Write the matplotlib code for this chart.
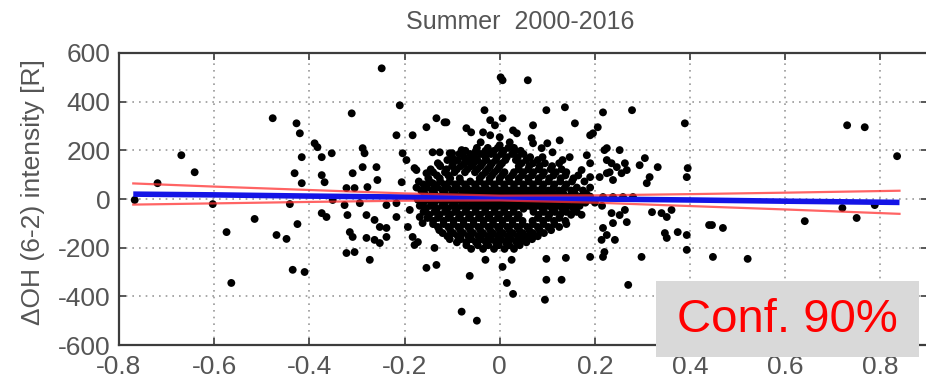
import matplotlib
matplotlib.use("Agg")
import matplotlib.pyplot as plt
from matplotlib.patches import Rectangle

plt.rcParams["font.family"] = ["Liberation Sans", "DejaVu Sans"]
plt.rcParams["axes.unicode_minus"] = False

TEXT, SPINE, GRID = "#555555", "#3c3c3c", "#9a9a9a"

# scattered points (x = index, y = intensity anomaly [R])
OUTER_X = [-0.767, -0.719, -0.669, -0.641, -0.603, -0.574, -0.564, -0.515, -0.477, -0.469,
           -0.448, -0.441, -0.435, -0.431, -0.427, -0.425, -0.42, -0.416, -0.416, -0.41,
           -0.389, -0.383, -0.374, -0.374, -0.368, -0.374, -0.364, -0.353, -0.351, -0.322,
           -0.326, -0.32, -0.315, -0.311, -0.309, -0.309, -0.305, -0.322, -0.305, -0.294,
           -0.288, -0.284, -0.288, -0.28, -0.28, -0.278, -0.273, -0.263, -0.263, -0.259,
           -0.257, -0.252, -0.252, -0.248, -0.238, -0.238, -0.238, -0.217, -0.217, -0.21,
           -0.217, -0.206, -0.204, -0.196, -0.193, -0.189, -0.183, -0.183, -0.179, -0.179,
           -0.175, -0.172, -0.168, -0.162, -0.154, -0.154, -0.154, -0.141, -0.141, -0.137,
           -0.133, -0.133, -0.126, -0.126, -0.116, -0.112, -0.105, -0.1, -0.08, -0.08,
           -0.063, -0.06, -0.07, -0.048, -0.04, -0.035, -0.032, -0.03, -0.02, -0.02,
           -0.01, 0.0, 0.0, 0.002, 0.006, 0.006, 0.006, 0.015, 0.025, 0.028,
           0.028, 0.036, 0.021, 0.059, 0.067, 0.07, 0.07, 0.088, 0.095, 0.098,
           0.098, 0.098, 0.1, 0.111, 0.126, 0.13, 0.137, 0.139, 0.132, 0.147,
           0.158, 0.172, 0.183, 0.19, 0.19, 0.19, 0.19, 0.196, 0.206, 0.21,
           0.217, 0.217, 0.22, 0.225, 0.225, 0.225, 0.231, 0.235, 0.238, 0.246,
           0.252, 0.256, 0.263, 0.267, 0.278, 0.294, 0.305, 0.309, 0.315, 0.332,
           0.389, 0.393, 0.395, 0.217, 0.238, 0.259, 0.28, 0.235, 0.252, 0.263,
           0.238, 0.267, 0.217, 0.225, 0.242, 0.214, 0.22, 0.32, 0.34, 0.351,
           0.361, 0.347, 0.351, 0.374, 0.393, 0.393, 0.298, 0.27, 0.44, 0.446,
           0.469, 0.448, 0.521, 0.641, 0.72, 0.75, 0.788, 0.73, 0.767, 0.835]
OUTER_Y = [-4, 65, 180, 110, -21, -136, -345, -82, 332, -148,
           -164, -21, -291, 106, 311, -103, 270, 172, 65, -300,
           229, 213, 172, 98, 69, -58, -74, 188, -4, 45,
           -25, -66, -136, 352, 106, -156, 45, -222, -218, -17,
           209, 188, 131, -66, -160, 49, -250, -86, -168, 131,
           78, -115, -181, 537, -119, -156, -25, -17, -74, 385,
           262, 69, 188, 160, -115, -45, 262, -156, 127, -189,
           119, -177, -74, -99, 295, 106, -283, 65, 192, -201,
           332, -271, 192, 139, 315, 315, 188, 188, 201, -463,
           -316, 274, 291, -500, 233, 274, 365, -250, 324, 262,
           303, 254, 221, 500, 488, 332, -279, -345, -250, -390,
           282, 270, 233, 488, 250, 303, 229, 209, -414, 365,
           -332, -246, 229, 192, 241, -332, 377, -242, 160, 172,
           311, 119, 180, 262, 147, 90, -238, 270, 295, 90,
           356, -238, 201, 209, 160, 106, 110, 147, 78, 131,
           201, 106, 147, 119, 365, 139, 168, 65, 90, 131,
           311, 90, 127, 8, 8, 8, 8, -58, -66, -45,
           -99, -95, -119, -148, -168, -168, -218, -54, -58, -74,
           -45, -140, -160, -136, -148, -209, -238, -353, -107, -107,
           -119, -238, -246, -91, -37, -78, -25, 303, 295, 176]

# dense core of the cloud, one list of x positions per intensity level
CORE_LEVELS = [210, 185, 160, 135, 110, 85, 60, 35, 10, -15, -40, -65, -90, -115, -140, -165, -190]
CORE_X = [
    [-0.048, -0.025, -0.004, 0.018, 0.03],
    [-0.085, -0.062, -0.04, -0.018, 0.004, 0.026, 0.05],
    [-0.11, -0.088, -0.066, -0.047, -0.028, -0.008, 0.012, 0.034, 0.056, 0.08],
    [-0.125, -0.1, -0.082, -0.06, -0.04, -0.02, 0.0, 0.04, 0.062, 0.084, 0.11],
    [-0.14, -0.115, -0.095, -0.073, -0.052, -0.03, -0.011, 0.01, 0.03, 0.05, 0.071, 0.093, 0.118, 0.14],
    [-0.15, -0.126, -0.104, -0.084, -0.042, -0.021, 0.0, 0.019, 0.04, 0.06, 0.082, 0.104, 0.128, 0.155],
    [-0.16, -0.138, -0.116, -0.094, -0.073, -0.052, -0.032, -0.012, 0.009, 0.03, 0.05, 0.07, 0.092, 0.115, 0.14],
    [-0.165, -0.142, -0.12, -0.1, -0.08, -0.06, -0.04, -0.02, 0.0, 0.02, 0.04, 0.06, 0.08, 0.102, 0.125, 0.15, 0.175],
    [-0.148, -0.126, -0.105, -0.084, -0.063, -0.043, -0.022, -0.002, 0.018, 0.038, 0.058, 0.079, 0.1, 0.123, 0.146, 0.17, 0.19],
    [-0.16, -0.137, -0.115, -0.094, -0.073, -0.052, -0.032, -0.011, 0.009, 0.029, 0.05, 0.07, 0.091, 0.112, 0.135, 0.158, 0.18, 0.2],
    [-0.155, -0.132, -0.11, -0.09, -0.07, -0.05, -0.03, -0.01, 0.01, 0.03, 0.05, 0.07, 0.09, 0.11, 0.132, 0.155],
    [-0.148, -0.126, -0.104, -0.083, -0.062, -0.041, -0.021, -0.001, 0.019, 0.04, 0.082, 0.104, 0.127, 0.15, 0.172],
    [-0.14, -0.118, -0.097, -0.076, -0.055, -0.034, -0.014, 0.006, 0.027, 0.048, 0.069, 0.091, 0.114, 0.138],
    [-0.13, -0.108, -0.087, -0.066, -0.045, -0.024, -0.004, 0.016, 0.037, 0.058, 0.08, 0.102, 0.125],
    [-0.12, -0.098, -0.077, -0.056, -0.035, -0.014, 0.006, 0.027, 0.048, 0.07, 0.093],
    [-0.105, -0.082, -0.06, -0.039, -0.018, 0.003, 0.024, 0.046, 0.068],
    [-0.07, -0.046, -0.024, -0.002, 0.02, 0.042],
]
# second, staggered layer of the core
CORE2_LEVELS = [198, 172, 147, 122, 97, 72, 47, 22, -3, -28, -53, -78, -103, -128, -153, -178, -205]
CORE2_X = [
    [-0.072, -0.05, -0.03, -0.012, 0.008, 0.032, 0.044],
    [-0.1, -0.075, -0.053, -0.03, -0.006, 0.015, 0.038, 0.064, 0.09],
    [-0.13, -0.098, -0.074, -0.055, -0.036, -0.016, 0.005, 0.046, 0.07, 0.095, 0.125],
    [-0.145, -0.112, -0.09, -0.068, -0.047, -0.025, -0.004, 0.04, 0.06, 0.082, 0.107, 0.13],
    [-0.132, -0.108, -0.037, -0.016, 0.005, 0.026, 0.047, 0.068, 0.09, 0.113, 0.138, 0.165],
    [-0.17, -0.147, -0.125, -0.105, -0.083, -0.062, -0.042, -0.022, -0.001, 0.02, 0.04, 0.061, 0.081, 0.103, 0.127, 0.152, 0.178],
    [-0.175, -0.153, -0.131, -0.11, -0.09, -0.07, -0.05, -0.03, -0.01, 0.01, 0.03, 0.05, 0.07, 0.09, 0.113, 0.137, 0.162, 0.19],
    [-0.158, -0.137, -0.115, -0.094, -0.073, -0.053, -0.032, -0.012, 0.008, 0.028, 0.048, 0.068, 0.09, 0.112, 0.134, 0.158, 0.182],
    [-0.172, -0.15, -0.126, -0.104, -0.083, -0.062, -0.042, -0.021, -0.001, 0.019, 0.039, 0.06, 0.08, 0.101, 0.123, 0.146, 0.169, 0.19],
    [-0.168, -0.145, -0.121, -0.1, -0.08, -0.06, -0.04, -0.02, 0.0, 0.02, 0.04, 0.06, 0.08, 0.1, 0.122, 0.145, 0.168, 0.215],
    [-0.16, -0.137, -0.115, -0.094, -0.072, -0.051, -0.031, -0.011, 0.009, 0.029, 0.071, 0.093, 0.116, 0.14, 0.162],
    [-0.152, -0.13, -0.108, -0.086, -0.065, -0.044, -0.024, -0.004, 0.016, 0.037, 0.08, 0.102, 0.125],
    [-0.14, -0.118, -0.097, -0.076, -0.055, -0.034, -0.014, 0.006, 0.027, 0.048, 0.07, 0.092, 0.115, 0.14],
    [-0.127, -0.104, -0.083, -0.062, -0.041, -0.02, 0.0, 0.02, 0.041, 0.062, 0.084, 0.108],
    [-0.11, -0.088, -0.066, -0.045, -0.025, -0.004, 0.017, 0.038, 0.059, 0.08],
    [-0.09, -0.07, -0.05, -0.029, -0.008, 0.013, 0.035, 0.056],
    [-0.06, -0.035, -0.012, 0.01, 0.03],
]

# regression line and 90% confidence limits, read at a few x positions
FIT_X = [-0.77, -0.6, -0.4, -0.2, 0.0, 0.2, 0.4, 0.6, 0.84]
FIT_Y = [20, 17, 12, 8, 4, 0, -4, -9, -14]
UPPER_Y = [64, 51, 37, 23, 14, 15, 20, 26, 34]
LOWER_Y = [-23, -18, -12, -7, -6, -15, -29, -43, -61]

XTICKS = [-0.8, -0.6, -0.4, -0.2, 0, 0.2, 0.4, 0.6, 0.8]
XTICK_LABELS = ["-0.8", "-0.6", "-0.4", "-0.2", "0", "0.2", "0.4", "0.6", "0.8"]
YTICKS = [-600, -400, -200, 0, 200, 400, 600]

core_x, core_y = [], []
for levels, rows in ((CORE_LEVELS, CORE_X), (CORE2_LEVELS, CORE2_X)):
    for lvl, row in zip(levels, rows):
        core_x += row
        core_y += [lvl] * len(row)

fig = plt.figure(figsize=(9.26, 3.86), dpi=100)
ax = fig.add_axes([0.1285, 0.1062, 0.8737, 0.7565])

ax.scatter(OUTER_X + core_x, OUTER_Y + core_y, s=32, color="black",
           edgecolors="none", zorder=3)
ax.plot(FIT_X, FIT_Y, color="#1414e6", lw=4, zorder=4, solid_capstyle="butt")
ax.plot(FIT_X, UPPER_Y, color="#ff3030", lw=1.6, alpha=0.75, zorder=5)
ax.plot(FIT_X, LOWER_Y, color="#ff3030", lw=1.6, alpha=0.75, zorder=5)

ax.set_xlim(-0.8, 0.9)
ax.set_ylim(-600, 600)
ax.set_xticks(XTICKS, XTICK_LABELS)
ax.set_yticks(YTICKS)
ax.grid(True, color=GRID, lw=1.2, linestyle=(0, (1, 3)), zorder=0)
ax.set_axisbelow(True)
for s in ax.spines.values():
    s.set_color(SPINE)
    s.set_linewidth(1.6)
ax.tick_params(direction="in", length=5, width=1.2, top=True, right=True,
               color=SPINE, labelcolor=TEXT, labelsize=19)
ax.tick_params(axis="x", pad=7)
ax.tick_params(axis="y", pad=6)

fig.text(0.562, 0.943, "Summer  2000-2016", ha="center", va="center",
         fontsize=18, color=TEXT)
fig.text(0.036, 0.503, "ΔOH (6-2) intensity [R]", ha="center", va="center",
         rotation=90, fontsize=19, color=TEXT)

fig.patches.append(Rectangle((0.708, 0.075), 0.284, 0.197, transform=fig.transFigure,
                             facecolor="#d9d9d9", edgecolor="none", zorder=10))
fig.text(0.850, 0.171, "Conf. 90%", ha="center", va="center", fontsize=34,
         color="#ff0000", zorder=11)

fig.savefig("out.png", dpi=100)
